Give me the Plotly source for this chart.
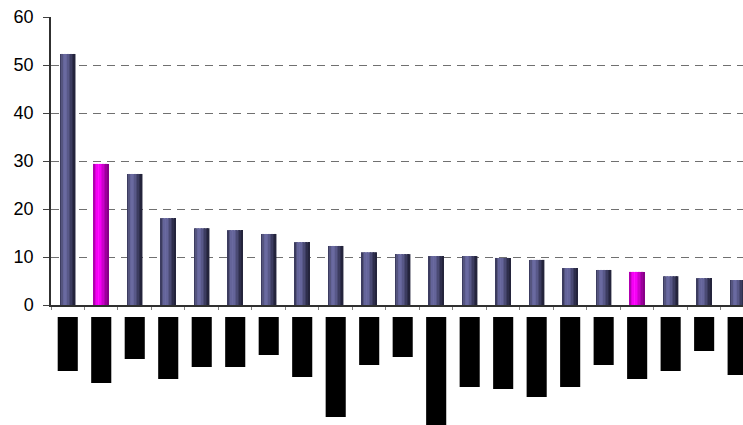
import plotly.graph_objects as go

# ---- data ----
categories = [f"C{i+1}" for i in range(21)]
values = [52.3, 29.4, 27.3, 18.1, 16.0, 15.6, 14.8, 13.1, 12.3, 11.0, 10.6,
          10.2, 10.2, 9.8, 9.4, 7.7, 7.3, 6.9, 6.0, 5.6, 5.2]
highlight = [False, True] + [False] * 15 + [True] + [False] * 3
# lengths of the redacted (blacked-out) category labels, in label units
label_len = [54, 66, 42, 62, 50, 50, 38, 60, 100, 48, 40, 108, 70, 72, 80,
             70, 48, 62, 54, 34, 58]
y_ticks = [0, 10, 20, 30, 40, 50, 60]

# ---- styles ----
navy_prof = ["#3c3c60", "#55557f", "#64649a", "#6a6aa0", "#64649a", "#585888",
             "#4a4a74", "#3c3c60", "#2e2e4c", "#24243c"]
mag_prof = ["#b000b0", "#dd00dd", "#f500f5", "#ff10ff", "#f500f5", "#e000e0",
            "#cc00cc", "#b400b4", "#9c009c", "#880088"]
BAR_W = 0.448
N = len(navy_prof)
sw = BAR_W / N

fig = go.Figure()
for k in range(N):
    cols = [mag_prof[k] if h else navy_prof[k] for h in highlight]
    fig.add_trace(go.Bar(
        x=categories, y=values, width=sw * 1.15, offset=-BAR_W / 2 + k * sw,
        marker=dict(color=cols, line=dict(width=0)),
        xaxis="x", yaxis="y", showlegend=False, hoverinfo="skip"))

fig.add_trace(go.Bar(
    x=categories, y=label_len, width=0.6,
    marker=dict(color="black", line=dict(width=0)),
    xaxis="x2", yaxis="y2", showlegend=False, hoverinfo="skip"))

H = 425
T = 17
plot_h = H - T
y_top_dom = (H - 305) / plot_h
y2_top_dom = (H - 317) / plot_h

fig.update_layout(
    template="none",
    width=743, height=425,
    margin=dict(l=51, r=0, t=T, b=0, pad=0, autoexpand=False),
    paper_bgcolor="white", plot_bgcolor="white",
    barmode="overlay",
    font=dict(family="Liberation Sans, Arial, sans-serif", color="black"),
    xaxis=dict(
        domain=[0, 1], anchor="y", range=[-0.5, 20.16], automargin=False,
        showticklabels=False, ticks="outside", tickson="boundaries",
        ticklen=3, tickcolor="#808080", tickwidth=1,
        showline=True, linecolor="#303030", linewidth=1.5,
        showgrid=False, zeroline=False, fixedrange=True),
    yaxis=dict(
        domain=[y_top_dom, 1], anchor="x", range=[0, 60], automargin=False,
        tickvals=y_ticks, ticks="outside", ticklen=6, tickcolor="#404040",
        tickfont=dict(size=18, color="black"), ticklabelstandoff=6,
        showline=True, linecolor="#303030", linewidth=1.5,
        showgrid=True, gridcolor="#707070", gridwidth=1.3, griddash="8px,6px",
        zeroline=False, fixedrange=True),
    xaxis2=dict(domain=[0, 1], anchor="y2", range=[-0.5, 20.16],
                visible=False, matches="x", automargin=False),
    yaxis2=dict(domain=[0, y2_top_dom], anchor="x2", range=[108, 0],
                visible=False, automargin=False),
)

fig.write_html("out.html")
